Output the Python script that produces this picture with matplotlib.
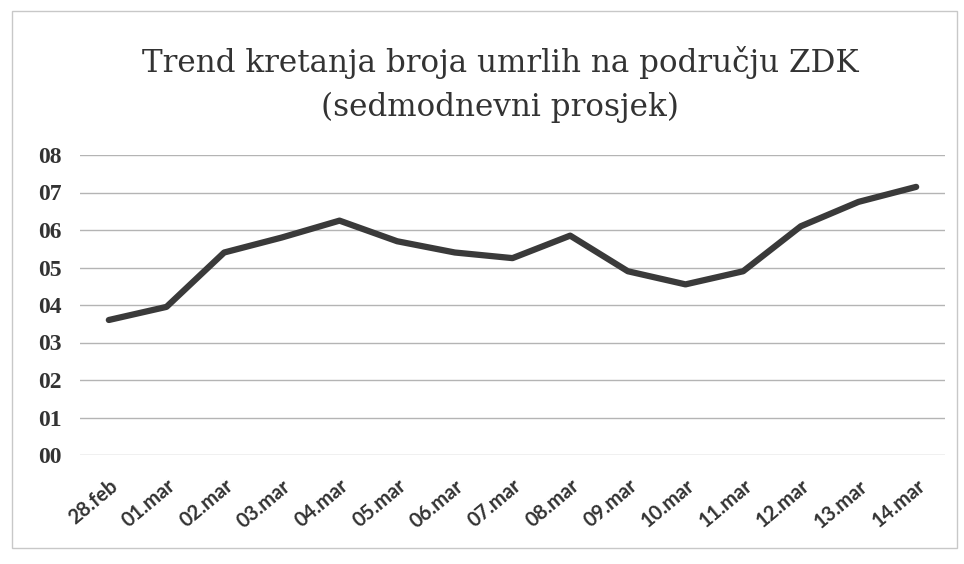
import matplotlib.pyplot as plt
from matplotlib.patches import Rectangle

# sedmodnevni prosjek umrlih, ZDK
datumi = ['28.feb', '01.mar', '02.mar', '03.mar', '04.mar', '05.mar', '06.mar',
          '07.mar', '08.mar', '09.mar', '10.mar', '11.mar', '12.mar', '13.mar', '14.mar']
prosjek = [3.6, 3.95, 5.4, 5.8, 6.25, 5.7, 5.4, 5.25, 5.85, 4.9, 4.55, 4.9, 6.1, 6.75, 7.15]
y_oznake = ['00', '01', '02', '03', '04', '05', '06', '07', '08']

fig = plt.figure(figsize=(9.64, 5.64), dpi=100)
ax = fig.add_axes([80 / 964, 1 - 455 / 564, 865 / 964, 300 / 564])

x = range(len(datumi))
ax.plot(x, prosjek, color='#3a3a3a', linewidth=4.5, solid_capstyle='round', solid_joinstyle='round', zorder=3)

ax.set_xlim(-0.5, len(datumi) - 0.5)
ax.set_ylim(0, 8)
ax.set_yticks(range(9))
ax.set_yticklabels(y_oznake, family='Liberation Serif', fontweight='bold', fontsize=17, color='#333333')
ax.set_xticks(list(x))
ax.set_xticklabels(datumi, rotation=40, ha='right', rotation_mode='anchor',
                   family='Lato', fontweight='bold', fontsize=14.5, color='#333333')
ax.tick_params(axis='both', length=0)
ax.tick_params(axis='y', pad=13)
ax.tick_params(axis='x', pad=15)
ax.grid(axis='y', color='#b4b4b4', linewidth=1.0)
for s in ax.spines.values():
    s.set_visible(False)

fig.text(0.519, 1 - 72 / 564, 'Trend kretanja broja umrlih na području ZDK',
         ha='center', va='baseline', family='DejaVu Serif', fontsize=22.3, color='#333333')
fig.text(0.519, 1 - 116 / 564, '(sedmodnevni prosjek)',
         ha='center', va='baseline', family='DejaVu Serif', fontsize=22.3, color='#333333')

# okvir skenirane slike
fig.patches.append(Rectangle((12 / 964, 16 / 564), 945 / 964, 537 / 564, transform=fig.transFigure,
                             fill=False, edgecolor='#c8c8c8', linewidth=1.0))

fig.savefig('out.png', dpi=100)
